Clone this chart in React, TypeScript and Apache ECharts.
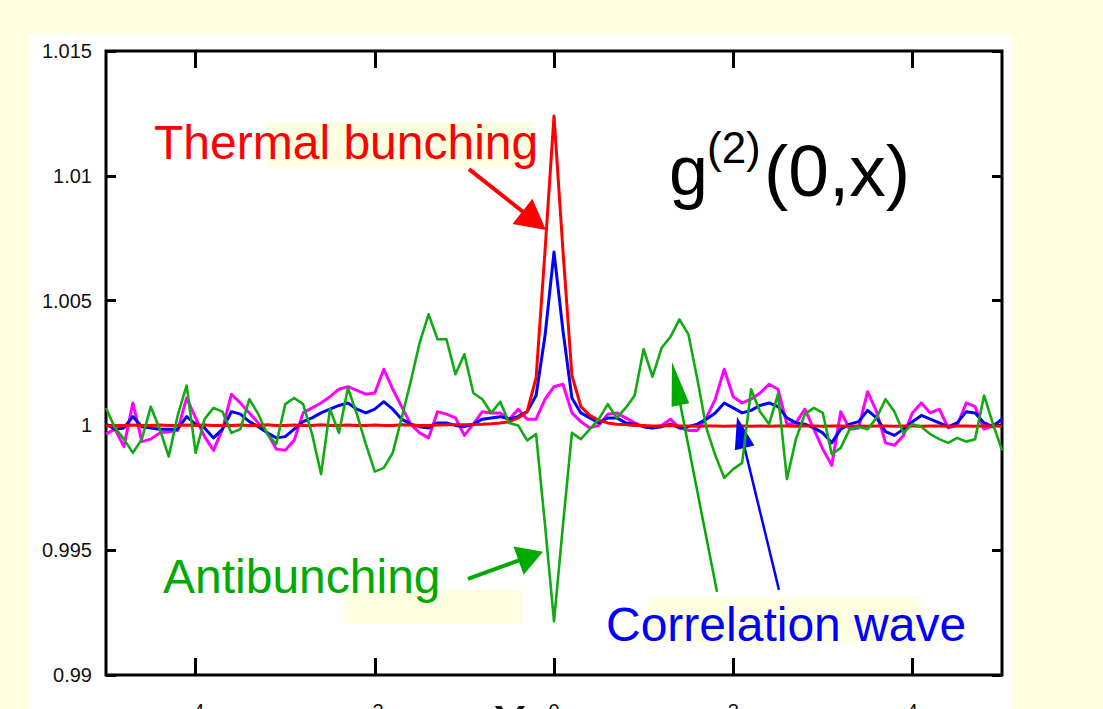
import React, { useEffect, useRef } from "react";
import * as echarts from "echarts";

// sampling grid of the curves (x from -5 to 5, step 0.1)
const X_VALUES: number[] = Array.from({ length: 101 }, (_, i) => Math.round(-50 + i) / 10);

const X_TICKS = [-4, -2, 0, 2, 4];
const Y_MIN = 0.99;
const Y_MAX = 1.015;
const Y_STEP = 0.005;

// red: thermal bunching
const THERMAL = [
  0.99998, 1.0, 1.0, 1.00002, 1.0, 1.0, 1.00002, 1.0, 1.0, 1.00002,
  1.0, 1.00002, 1.0, 1.0, 1.0, 1.00002, 1.0, 1.0, 1.00003, 1.0,
  1.0, 1.00002, 1.0, 1.0, 1.00003, 1.0, 1.0, 1.00002, 1.0, 1.0,
  1.00002, 1.0, 1.0, 1.00003, 1.00002, 1.0, 1.0, 1.00002, 1.00003, 1.00003,
  1.00003, 1.00004, 1.00005, 1.00007, 1.0001, 1.00015, 1.0003, 1.00055, 1.0019, 1.007,
  1.0124, 1.007, 1.002, 1.00075, 1.0004, 1.0002, 1.0001, 1.00005, 1.00003, 1.0,
  1.0, 0.99998, 0.99998, 1.0, 0.99998, 0.99998, 0.99997, 0.99998, 0.99998, 0.99997,
  0.99998, 0.99998, 0.99997, 0.99998, 0.99997, 0.99998, 0.99998, 0.99997, 0.99998, 0.99998,
  0.99997, 0.99998, 0.99998, 0.99997, 0.99998, 0.99997, 0.99998, 0.99998, 0.99997, 0.99998,
  0.99998, 0.99997, 0.99998, 0.99998, 0.99997, 0.99998, 0.99998, 0.99997, 0.99998, 0.99998,
  0.99997,
];

// blue: correlation wave
const CORRELATION = [
  1.00005, 0.99985, 0.9999, 1.00035, 0.99995, 0.9999, 0.99985, 0.99985, 0.99985, 1.00035,
  1.00005, 0.9999, 0.9995, 0.99985, 1.00055, 1.00045, 1.00015, 0.99995, 0.9997, 0.9995,
  0.99955, 0.99985, 1.00015, 1.0003, 1.0005, 1.00065, 1.0008, 1.0009, 1.00065, 1.0005,
  1.00065, 1.00095, 1.00065, 1.00025, 1.00005, 0.99995, 0.9999, 1.0001, 1.0001, 1.0,
  0.99995, 1.00005, 1.00025, 1.0003, 1.00035, 1.00025, 1.00035, 1.00055, 1.0012, 1.0036,
  1.00695, 1.0038, 1.0011, 1.0005, 1.0003, 1.0001, 1.0003, 1.0003, 1.0001, 1.00005,
  0.99995, 0.9999, 0.99995, 1.00005, 0.9999, 0.99995, 1.00005, 1.00025, 1.0005, 1.0009,
  1.0007, 1.0005, 1.0006, 1.0008, 1.0009, 1.00075, 1.0003, 1.0001, 1.00005, 0.9999,
  0.9997, 0.9993, 0.99985, 1.00005, 1.00015, 1.0006, 1.0003, 0.99975, 0.9996, 0.99985,
  1.00015, 1.0004, 1.00025, 1.0001, 0.99995, 1.0001, 1.00055, 1.0005, 1.0001, 0.99995,
  1.00025,
];

// magenta curve
const MAGENTA = [
  0.99965, 0.99985, 0.99915, 1.0009, 0.99935, 0.99945, 0.9997, 0.99975, 0.9998, 1.0011,
  1.0003, 0.99955, 0.999, 0.99985, 1.00125, 1.0009, 1.0005, 1.0001, 0.9997, 0.99905,
  0.999, 0.9994, 1.0005, 1.0007, 1.0009, 1.00115, 1.00145, 1.00155, 1.0014, 1.00125,
  1.0013, 1.00225, 1.00145, 1.00075, 1.00005, 0.9997, 0.9995, 1.00055, 1.00045, 1.0003,
  0.9996, 1.00005, 1.00055, 1.0005, 1.0005, 1.00025, 1.00065, 1.00025, 1.00025, 1.00105,
  1.00155, 1.00165, 1.0005, 1.00015, 0.9999, 1.0, 1.00045, 1.0005, 1.0003, 1.0001,
  0.99995, 0.9999, 1.0, 1.00025, 0.9999, 0.9998, 0.9998, 1.0003, 1.00105, 1.00225,
  1.00115, 1.0009, 1.00105, 1.0013, 1.00165, 1.00145, 1.00005, 1.0001, 1.00065, 0.99985,
  0.99905, 0.9984, 1.00055, 0.99985, 0.9999, 1.00135, 1.00055, 0.9993, 0.9992, 0.9996,
  1.0005, 1.0009, 1.0005, 1.00065, 0.9999, 1.0, 1.0009, 1.00075, 0.99985, 1.0,
  1.00025,
];

// green: antibunching
const ANTIBUNCHING = [
  1.0007, 0.9999, 0.99945, 0.9989, 0.99945, 1.00075, 0.99985, 0.99875, 1.0004, 1.0016,
  0.9989, 1.00025, 1.0007, 1.00055, 0.9997, 0.99985, 1.00105, 1.00045, 0.99965, 0.99925,
  1.00085, 1.0011, 1.00085, 0.99965, 0.99805, 1.00065, 0.9997, 1.0015, 1.00045, 0.99925,
  0.99815, 0.9983, 0.9989, 1.0003, 1.00175, 1.0033, 1.00445, 1.00345, 1.00345, 1.00205,
  1.00285, 1.0013, 1.00105, 1.0005, 1.00095, 1.0001, 1.0, 0.9994, 0.99965, 0.996,
  0.99215, 0.996, 0.9997, 0.99945, 0.99985, 1.00025, 1.00085, 1.0003, 1.0007, 1.0012,
  1.00305, 1.00195, 1.0031, 1.00355, 1.00425, 1.00365, 1.00185, 0.9999, 0.9988, 0.9979,
  0.99825, 0.9985, 1.00145, 1.00055, 1.00005, 1.00125, 0.99785, 0.99945, 1.00045, 1.0007,
  1.0005, 0.99885, 0.9991, 0.99985, 0.99995, 0.99985, 1.0003, 1.00105, 1.00055, 0.9997,
  1.00005, 0.99995, 0.99965, 0.99945, 0.9993, 0.9995, 0.99935, 0.99945, 1.0012, 1.00005,
  0.999,
];

// annotation arrows, in data coordinates: [from, to(centre of arrow head)]
const ARROWS = [
  { from: [-0.949, 1.01027], to: [-0.221, 1.0082], color: "#ff0000", width: 4, head: [32, 30] },
  { from: [-0.96, 0.99385], to: [-0.259, 0.99476], color: "#00aa00", width: 4, head: [30, 26] },
  { from: [1.819, 0.99333], to: [1.364, 1.00168], color: "#00aa00", width: 2.5, head: [18, 44] },
  { from: [2.511, 0.99341], to: [2.085, 0.99972], color: "#0000ff", width: 2.5, head: [20, 32] },
];

const FONT = "'Liberation Sans', Arial, Helvetica, sans-serif";

function pairs(arr: number[]) {
  return X_VALUES.map((x, i) => [x, arr[i]]);
}

function fmtY(v: number) {
  return String(parseFloat(v.toFixed(3)));
}

function buildOption(): echarts.EChartsCoreOption {
  const lineSeries = (name: string, data: number[], color: string, width: number, z: number, extra: any = {}) => ({
    name,
    type: "line",
    data: pairs(data),
    showSymbol: false,
    symbol: "none",
    smooth: false,
    z,
    lineStyle: { color, width, join: "round" },
    itemStyle: { color },
    emphasis: { disabled: true },
    silent: true,
    ...extra,
  });

  const yAxisBase = {
    type: "value",
    min: Y_MIN,
    max: Y_MAX,
    interval: Y_STEP,
    splitLine: { show: false },
    axisLine: { show: false, onZero: false },
    axisTick: { show: true, inside: true, length: 10, lineStyle: { color: "#000", width: 3 } },
  };
  const xAxisBase = {
    type: "value",
    min: -5,
    max: 5,
    splitLine: { show: false },
    axisLine: { show: false, onZero: false },
    axisTick: {
      show: true,
      inside: true,
      length: 17,
      customValues: X_TICKS,
      lineStyle: { color: "#000", width: 3 },
    },
  };

  const label = (text: string, x: number, y: number, size: number, fill: string, align = "left") => ({
    type: "text",
    z: 100,
    silent: true,
    x,
    y,
    style: { text, fontSize: size, fontFamily: FONT, fill, align, verticalAlign: "middle" },
  });

  return {
    animation: false,
    backgroundColor: "#fefee1",
    grid: {
      left: 106,
      right: 101,
      top: 51,
      bottom: 34,
      show: true,
      borderColor: "#000",
      borderWidth: 3,
      backgroundColor: "transparent",
      outerBoundsMode: "none",
      containLabel: false,
    },
    xAxis: [
      {
        ...xAxisBase,
        position: "bottom",
        axisLabel: {
          customValues: X_TICKS,
          margin: 26,
          fontSize: 20,
          color: "#111",
          fontFamily: FONT,
        },
      },
      { ...xAxisBase, position: "top", axisLabel: { show: false } },
    ],
    yAxis: [
      {
        ...yAxisBase,
        position: "left",
        axisLabel: {
          margin: 14,
          fontSize: 20,
          color: "#111",
          fontFamily: FONT,
          formatter: fmtY,
        },
      },
      { ...yAxisBase, position: "right", axisLabel: { show: false } },
    ],
    series: [
      lineSeries("magenta", MAGENTA, "#ff00ff", 3, 2),
      lineSeries("Correlation wave", CORRELATION, "#0000ff", 3, 3),
      lineSeries("Thermal bunching", THERMAL, "#ff0000", 3, 4),
      lineSeries("Antibunching", ANTIBUNCHING, "#11aa11", 2.6, 5, {
        markLine: {
          silent: true,
          animation: false,
          symbol: ["none", "triangle"],
          label: { show: false },
          emphasis: { disabled: true },
          data: ARROWS.map((a) => [
            {
              coord: a.from,
              symbol: "none",
              lineStyle: { color: a.color, width: a.width, type: "solid" },
            },
            { coord: a.to, symbol: "triangle", symbolSize: a.head },
          ]),
        },
      }),
    ],
    graphic: [
      {
        type: "rect",
        silent: true,
        z: -10,
        shape: { x: 29, y: 35, width: 983, height: 700 },
        style: { fill: "#ffffff" },
      },
      // faint yellow highlight boxes behind parts of the labels
      { type: "rect", silent: true, z: -5, shape: { x: 267, y: 122, width: 267, height: 46 }, style: { fill: "#fefee1" } },
      { type: "rect", silent: true, z: -5, shape: { x: 343, y: 590, width: 180, height: 34 }, style: { fill: "#fefee1" } },
      { type: "rect", silent: true, z: -5, shape: { x: 648, y: 597, width: 274, height: 45 }, style: { fill: "#fefee1" } },
      label("Thermal bunching", 154, 142, 48, "#ff0000"),
      label("Antibunching", 163, 576, 48, "#00aa00"),
      label("Correlation wave", 606, 624, 48, "#0000ff"),
      label("g", 669, 171, 70, "#000"),
      label("(2)", 707, 147, 44, "#000"),
      label("(0,x)", 764, 170, 73, "#000"),
      label("x", 510, 718, 66, "#111", "center"),
    ],
  };
}

export default function App() {
  const ref = useRef<HTMLDivElement>(null);
  useEffect(() => {
    if (!ref.current) return;
    const chart = echarts.init(ref.current, null, { renderer: "svg" });
    chart.setOption(buildOption());
    return () => chart.dispose();
  }, []);
  return (
    <div style={{ position: "fixed", left: 0, top: 0, width: 1103, height: 709, overflow: "hidden" }}>
      <div ref={ref} style={{ width: 1103, height: 709 }} />
    </div>
  );
}
